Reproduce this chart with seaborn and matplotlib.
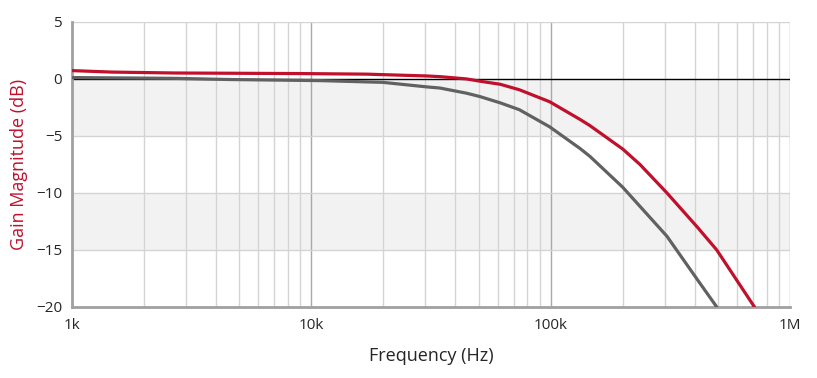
import pandas as pd
import numpy as np
import matplotlib.pyplot as plt
import seaborn as sns

# gain curves (frequency in Hz, gain in dB)
red_freq = [1e3, 1.47e3, 2.7e3, 9e3, 17e3, 30.4e3, 34.5e3, 44.5e3, 50.7e3, 61.6e3, 74e3,
            99e3, 132.6e3, 146e3, 200e3, 236e3, 306e3, 410e3, 494e3, 710e3]
red_gain = [0.73, 0.6, 0.52, 0.47, 0.42, 0.26, 0.2, 0.0, -0.2, -0.47, -0.95,
            -2.0, -3.55, -4.1, -6.15, -7.5, -10.0, -13.0, -15.0, -20.0]
gray_freq = [1e3, 2.7e3, 4.5e3, 11e3, 19.9e3, 30.4e3, 34.5e3, 44.5e3, 50.7e3, 61.6e3, 74e3,
             99e3, 132.6e3, 146e3, 200e3, 306e3, 410e3, 494e3]
gray_gain = [0.12, 0.05, -0.05, -0.15, -0.3, -0.7, -0.8, -1.25, -1.55, -2.1, -2.7,
             -4.2, -6.1, -6.8, -9.5, -13.8, -17.6, -20.0]

x_ticks = [1e3, 1e4, 1e5, 1e6]
x_labels = ['1k', '10k', '100k', '1M']
y_ticks = [5, 0, -5, -10, -15, -20]

red_df = pd.DataFrame({'Frequency': red_freq, 'Gain': red_gain})
gray_df = pd.DataFrame({'Frequency': gray_freq, 'Gain': gray_gain})

sns.set_style('white')
plt.rcParams['font.family'] = ['Open Sans', 'DejaVu Sans']

fig = plt.figure(figsize=(8.17, 3.78), dpi=100)
ax = fig.add_axes([0.088, 0.188, 0.879, 0.754])

# shaded bands
for lo, hi in [(-5, 0), (-15, -10)]:
    ax.axhspan(lo, hi, color='#f2f2f2', zorder=0, lw=0)

# grid lines
for d in [1e3, 1e4, 1e5]:
    for m in range(2, 10):
        ax.axvline(d * m, color='#d4d4d4', lw=1, zorder=1)
for d in [1e4, 1e5, 1e6]:
    ax.axvline(d, color='#a8a8a8', lw=1, zorder=1)
for y in [5, -5, -10, -15]:
    ax.axhline(y, color='#d4d4d4', lw=1, zorder=1)
ax.axhline(0, color='black', lw=1, zorder=2)

sns.lineplot(data=gray_df, x='Frequency', y='Gain', ax=ax, color='#616161', lw=2.3, zorder=3)
sns.lineplot(data=red_df, x='Frequency', y='Gain', ax=ax, color='#c0102c', lw=2.3, zorder=4)

ax.set_xscale('log')
ax.set_xlim(1e3, 1e6)
ax.set_ylim(-20, 5)
ax.set_xticks(x_ticks)
ax.set_xticklabels(x_labels)
ax.set_xticks([], minor=True)
ax.set_yticks(y_ticks)

for s in ['top', 'right']:
    ax.spines[s].set_visible(False)
for s in ['left', 'bottom']:
    ax.spines[s].set_color('#a0a0a0')
    ax.spines[s].set_linewidth(2)

ax.tick_params(axis='y', length=5, width=1, color='#a0a0a0', labelsize=11, pad=2)
ax.tick_params(axis='x', length=0, labelsize=11, pad=8)

ax.set_xlabel('Frequency (Hz)', fontsize=13, labelpad=10)
ax.set_ylabel('Gain Magnitude (dB)', fontsize=13, color='#c0102c', labelpad=6)

plt.savefig('out.png', dpi=100)
